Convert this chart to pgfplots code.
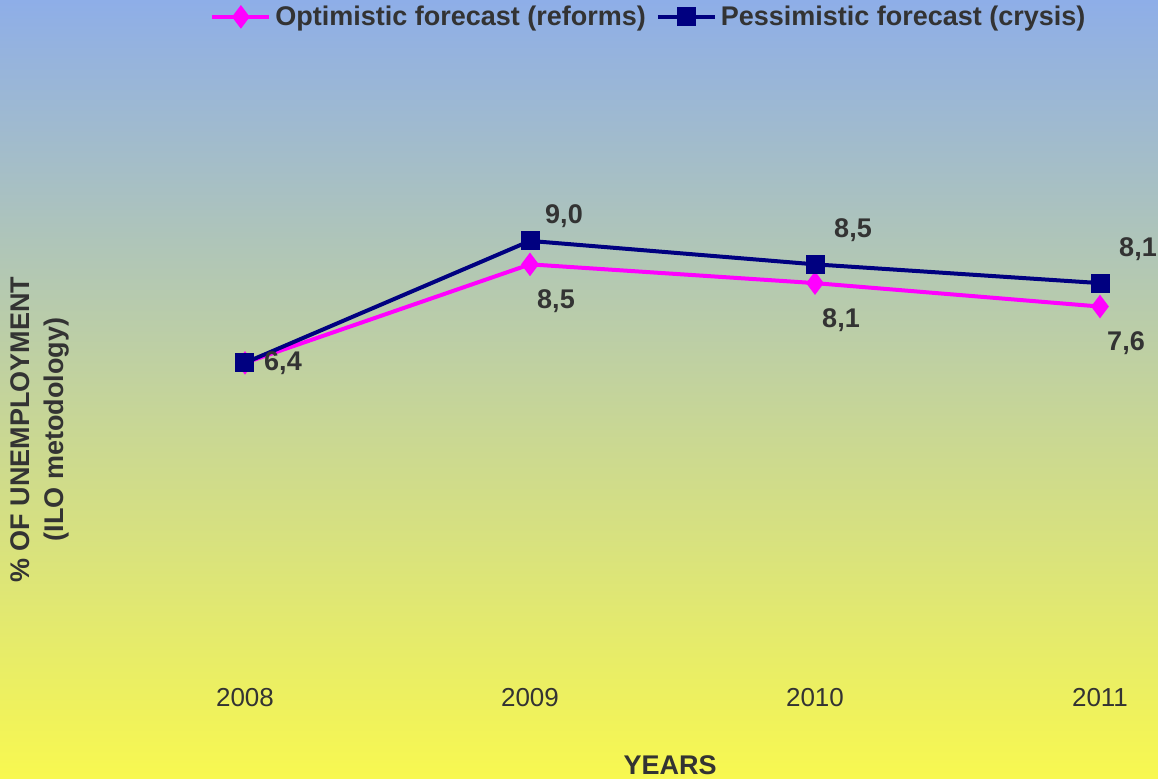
\documentclass[border=0pt]{standalone}
\usepackage{pgfplots}
\pgfplotsset{compat=1.18}
\usepackage{fontspec}
\setmainfont{Liberation Sans}
\definecolor{bgtop}{RGB}{142,174,232}
\definecolor{bgbot}{RGB}{248,248,80}
\definecolor{txt}{RGB}{51,51,51}
\definecolor{optc}{RGB}{255,0,255}
\definecolor{pesc}{RGB}{0,0,128}
\begin{document}
\begin{tikzpicture}
\shade[top color=bgtop, bottom color=bgbot] (0,0) rectangle (579pt,389pt);
\begin{axis}[
  at={(122.5pt,57.5pt)}, anchor=origin,
  x=142.5pt, y=23.45pt,
  xmin=-0.3, xmax=3.2, ymin=0, ymax=12,
  clip=false,
  axis line style={draw=none},
  major tick style={draw=none},
  xtick={0,1,2,3},
  xticklabels={2008,2009,2010,2011},
  ytick=\empty,
  xticklabel style={font=\fontsize{13}{15}\selectfont, text=txt, anchor=center, yshift=-17.5pt},
  xlabel={YEARS},
  xlabel style={font=\fontsize{13.5}{15}\selectfont\bfseries, text=txt, at={(rel axis cs:0.5118,-0.1815)}, anchor=center},
  ylabel={\% OF UNEMPLOYMENT\\(ILO metodology)},
  ylabel style={font=\fontsize{13.5}{17}\selectfont\bfseries, text=txt, align=center, at={(rel axis cs:-0.1198,0.4146)}, anchor=center, rotate=0},
  legend style={at={(rel axis cs:0.4917,1.148)}, anchor=center, draw=none, fill=none,
    legend columns=-1, font=\fontsize{13.5}{15}\selectfont\bfseries, text=txt,
    /tikz/every even column/.append style={column sep=3pt}},
  legend image code/.code={
    \draw[#1, mark=none] (0cm,0cm) -- (1.0cm,0cm);
    \draw[#1, only marks] plot coordinates {(0.5cm,0cm)};
  },
  /pgf/number format/.cd, use comma, fixed, fixed zerofill, precision=1, assume math mode=true,
]
\addplot[color=optc, line width=2pt, mark=diamond*, mark size=5.5pt,
  mark options={fill=optc, draw=optc, line width=0.5pt}]
  coordinates {(0,6.4) (1,8.5) (2,8.1) (3,7.6)};
\addlegendentry{Optimistic forecast (reforms)}
\addplot[color=pesc, line width=2pt, mark=square*, mark size=4.5pt,
  mark options={fill=pesc, draw=pesc, line width=0.5pt}]
  coordinates {(0,6.4) (1,9.0) (2,8.5) (3,8.1)};
\addlegendentry{Pessimistic forecast (crysis)}
% data labels
\addplot[draw=none, mark=none, forget plot,
  nodes near coords, nodes near coords style={font=\fontsize{13.5}{15}\selectfont\bfseries, text=txt, anchor=center, xshift=13pt, yshift=-18.5pt}]
  coordinates {(1,8.5) (2,8.1) (3,7.6)};
\addplot[draw=none, mark=none, forget plot,
  nodes near coords, nodes near coords style={font=\fontsize{13.5}{15}\selectfont\bfseries, text=txt, anchor=center, xshift=19pt, yshift=17pt}]
  coordinates {(2,8.5) (3,8.1)};
\addplot[draw=none, mark=none, forget plot,
  nodes near coords, nodes near coords style={font=\fontsize{13.5}{15}\selectfont\bfseries, text=txt, anchor=center, xshift=17pt, yshift=12.5pt}]
  coordinates {(1,9.0)};
\addplot[draw=none, mark=none, forget plot,
  nodes near coords, nodes near coords style={font=\fontsize{13.5}{15}\selectfont\bfseries, text=txt, anchor=center, xshift=19pt, yshift=0pt}]
  coordinates {(0,6.4)};
\end{axis}
\pgfresetboundingbox
\useasboundingbox (0,0) rectangle (579pt,389pt);
\end{tikzpicture}
\end{document}
